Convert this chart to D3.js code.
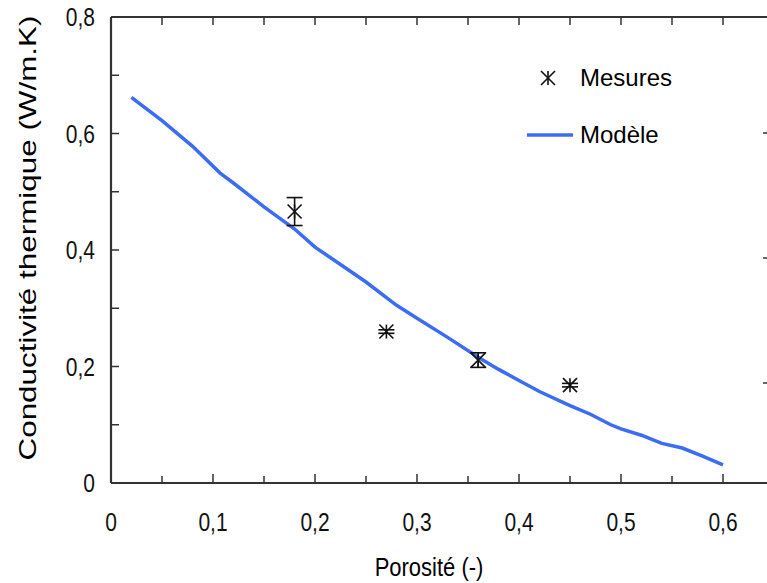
<html>
<head>
<script src="https://d3js.org/d3.v7.min.js"></script>
<style>
    body { margin: 0; background: #fff; }
    svg { display: block; font-family: "Liberation Sans", Arial, sans-serif; }
    .frame { stroke: #333; stroke-width: 2.2px; fill: none; }
    .tick-line { stroke: #333; stroke-width: 1.5px; }
    .tick-label { font-size: 21px; fill: #111; }
    .model { fill: none; stroke: #3a6cf4; stroke-width: 3.5px; }
    .mark { stroke: #111; stroke-width: 1.6px; fill: none; }
</style>
</head>
<body>
<svg id="chart" width="767" height="583"></svg>
<script>
    // model curve
    var modelX = [0.02, 0.05, 0.08, 0.107, 0.12, 0.15, 0.18, 0.20, 0.225, 0.25, 0.28, 0.30, 0.33, 0.36, 0.38, 0.40, 0.42, 0.45, 0.47, 0.49, 0.50, 0.52, 0.54, 0.56, 0.58, 0.60];
    var modelY = [0.662, 0.622, 0.578, 0.532, 0.515, 0.474, 0.436, 0.405, 0.375, 0.345, 0.305, 0.283, 0.250, 0.216, 0.195, 0.176, 0.157, 0.133, 0.118, 0.100, 0.093, 0.082, 0.068, 0.060, 0.046, 0.031];

    // measurements
    var mesX = [0.18, 0.27, 0.36, 0.45];
    var mesY = [0.466, 0.26, 0.211, 0.168];
    var mesErr = [0.024, 0.003, 0.0125, 0.003];

    var xTicks = [0, 0.05, 0.1, 0.15, 0.2, 0.25, 0.3, 0.35, 0.4, 0.45, 0.5, 0.55, 0.6, 0.65];
    var xLabels = [0, 0.1, 0.2, 0.3, 0.4, 0.5, 0.6];
    var yTicks = [0, 0.1, 0.2, 0.3, 0.4, 0.5, 0.6, 0.7, 0.8];
    var yLabels = [0, 0.2, 0.4, 0.6, 0.8];

    var svg = d3.select('#chart');
    var fmt = function(d) { return d3.format('.1~f')(d).replace('.', ','); };

    var x = d3.scaleLinear().domain([0, 0.6]).range([111, 723]);
    var y = d3.scaleLinear().domain([0, 0.8]).range([483, 17]);
    var right = 767;

    // frame lines
    svg.append('line').attr('class', 'frame')
        .attr('x1', x(0)).attr('x2', right).attr('y1', y(0)).attr('y2', y(0));
    svg.append('line').attr('class', 'frame')
        .attr('x1', x(0)).attr('x2', right).attr('y1', y(0.8)).attr('y2', y(0.8));
    svg.append('line').attr('class', 'frame')
        .attr('x1', x(0)).attr('x2', x(0)).attr('y1', y(0)).attr('y2', y(0.8));

    // x ticks, inward on bottom and top
    svg.selectAll('.xtb').data(xTicks).enter().append('line')
        .attr('class', 'tick-line')
        .attr('x1', function(d) { return x(d); }).attr('x2', function(d) { return x(d); })
        .attr('y1', y(0)).attr('y2', function(d, i) { return y(0) - (i % 2 ? 7 : 9); });
    svg.selectAll('.xtt').data(xTicks.slice(1)).enter().append('line')
        .attr('class', 'tick-line')
        .attr('x1', function(d) { return x(d); }).attr('x2', function(d) { return x(d); })
        .attr('y1', y(0.8)).attr('y2', y(0.8) + 8);

    // y ticks, inward
    svg.selectAll('.yt').data(yTicks.slice(1)).enter().append('line')
        .attr('class', 'tick-line')
        .attr('x1', x(0)).attr('x2', x(0) + 8)
        .attr('y1', function(d) { return y(d); }).attr('y2', function(d) { return y(d); });

    // small marks of the cut-off right axis
    var rightMarks = [133, 258, 383];
    svg.selectAll('.rt').data(rightMarks).enter().append('line')
        .attr('class', 'tick-line')
        .attr('x1', right - 4).attr('x2', right)
        .attr('y1', function(d) { return d; }).attr('y2', function(d) { return d; });

    // tick labels (slightly tall glyphs, as in the source)
    svg.selectAll('.xl').data(xLabels).enter().append('text')
        .attr('class', 'tick-label')
        .attr('transform', function(d) { return 'translate(' + x(d) + ',531) scale(1,1.2)'; })
        .attr('text-anchor', 'middle')
        .text(fmt);
    svg.selectAll('.yl').data(yLabels).enter().append('text')
        .attr('class', 'tick-label')
        .attr('transform', function(d) { return 'translate(95,' + (y(d) + 9) + ') scale(1,1.2)'; })
        .attr('text-anchor', 'end')
        .text(fmt);

    // axis titles
    svg.append('text')
        .attr('transform', 'translate(429,576) scale(1,1.2)')
        .attr('text-anchor', 'middle')
        .style('font-size', '22px')
        .text('Porosité (-)');
    svg.append('text')
        .attr('transform', 'translate(36,238) rotate(-90)')
        .attr('text-anchor', 'middle')
        .attr('textLength', 445)
        .attr('lengthAdjust', 'spacingAndGlyphs')
        .style('font-size', '24px')
        .text('Conductivité thermique (W/m.K)');

    // model line
    var line = d3.line()
        .x(function(d, i) { return x(modelX[i]); })
        .y(function(d, i) { return y(modelY[i]); });
    svg.append('path').attr('class', 'model').attr('d', line(modelX));

    // star marker: X plus a vertical bar
    function star(g, cx, cy, r) {
        g.append('line').attr('class', 'mark')
            .attr('x1', cx - r).attr('y1', cy - r).attr('x2', cx + r).attr('y2', cy + r);
        g.append('line').attr('class', 'mark')
            .attr('x1', cx - r).attr('y1', cy + r).attr('x2', cx + r).attr('y2', cy - r);
        g.append('line').attr('class', 'mark')
            .attr('x1', cx).attr('y1', cy - r).attr('x2', cx).attr('y2', cy + r);
    }

    var pts = svg.append('g');
    mesX.forEach(function(d, i) {
        var cx = x(d), cy = y(mesY[i]);
        var top = y(mesY[i] + mesErr[i]), bot = y(mesY[i] - mesErr[i]);
        pts.append('line').attr('class', 'mark')
            .attr('x1', cx).attr('x2', cx).attr('y1', top).attr('y2', bot);
        pts.append('line').attr('class', 'mark')
            .attr('x1', cx - 8).attr('x2', cx + 8).attr('y1', top).attr('y2', top);
        pts.append('line').attr('class', 'mark')
            .attr('x1', cx - 8).attr('x2', cx + 8).attr('y1', bot).attr('y2', bot);
        star(pts, cx, cy, 7);
    });

    // legend
    var lg = svg.append('g');
    star(lg, 548, 78, 7);
    lg.append('text').attr('x', 580).attr('y', 86).style('font-size', '24px').text('Mesures');
    lg.append('line')
        .attr('x1', 527).attr('x2', 573).attr('y1', 135).attr('y2', 135)
        .style('stroke', '#3a6cf4').style('stroke-width', '3.5px');
    lg.append('text').attr('x', 580).attr('y', 143).style('font-size', '24px').text('Modèle');
</script>
</body>
</html>
